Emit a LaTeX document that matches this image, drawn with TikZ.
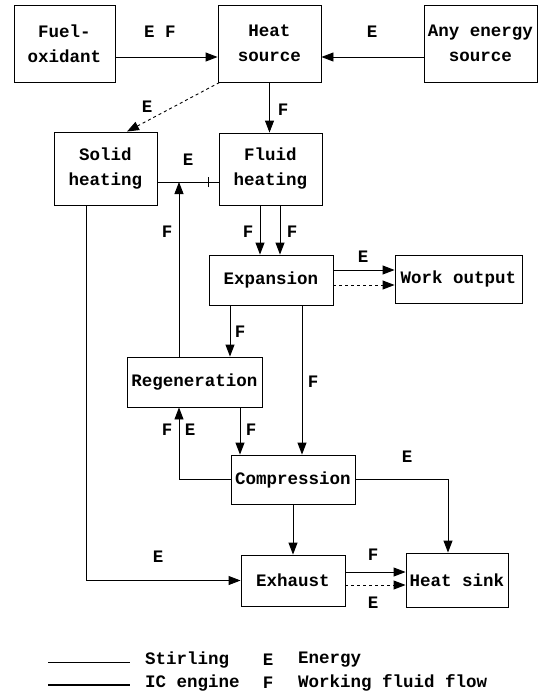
\documentclass[tikz,border=0pt]{standalone}
\usepackage{fontspec}
\setmainfont{Liberation Mono}
\usetikzlibrary{arrows.meta}
\newcommand\dgfont{\fontsize{17.5}{25}\selectfont\bfseries}
\tikzset{
  box/.style={draw, line width=0.9pt, align=center, inner sep=0pt, font=\dgfont},
  conn/.style={draw, line width=0.9pt},
  flow/.style={conn, -{Triangle[length=12pt,width=9pt]}},
  dashflow/.style={flow, dash pattern=on 3pt off 3pt},
  lab/.style={font=\dgfont, inner sep=0pt}
}
\begin{document}
\begin{tikzpicture}[x=1pt,y=-1pt]
\useasboundingbox (0,0) rectangle (542,694);
% boxes
\node[box, minimum width=101pt, minimum height=77pt] (fuel) at (64.5,43.5) {Fuel-\\oxidant};
\node[box, minimum width=103pt, minimum height=77pt] (heat) at (269.5,43.5) {Heat\\source};
\node[box, minimum width=113pt, minimum height=77pt] (any) at (480.5,43.5) {Any energy\\source};
\node[box, minimum width=103pt, minimum height=73pt] (solid) at (105.5,168.5) {Solid\\heating};
\node[box, minimum width=103pt, minimum height=72pt] (fluid) at (270.5,169) {Fluid\\heating};
\node[box, minimum width=124pt, minimum height=50pt] (exp) at (271,280) {Expansion};
\node[box, minimum width=127pt, minimum height=48pt] (work) at (458.5,279) {Work output};
\node[box, minimum width=135pt, minimum height=50pt] (regen) at (194.5,382) {Regeneration};
\node[box, minimum width=124pt, minimum height=49pt] (comp) at (293,479.5) {Compression};
\node[box, minimum width=104pt, minimum height=51pt] (exh) at (293,580.5) {Exhaust};
\node[box, minimum width=102pt, minimum height=54pt] (sink) at (457,580) {Heat sink};
% helper coordinates
\coordinate (yA) at (0,57);
\coordinate (ySF) at (0,182);
\coordinate (jSF) at (179,182);
\coordinate (tick) at (208,182);
\coordinate (yW1) at (0,270);
\coordinate (yW2) at (0,285);
\coordinate (x230) at (230,0);
\coordinate (x240) at (240,0);
\coordinate (x302) at (302,0);
\coordinate (x448) at (448,0);
\coordinate (x86) at (86,0);
\coordinate (yX1) at (0,572);
\coordinate (yX2) at (0,585);
% connectors
\draw[flow] (fuel.east |- yA) -- (heat.west |- yA);
\draw[flow] (any.west |- yA) -- (heat.east |- yA);
\draw[flow] (heat.south) -- (heat.south |- fluid.north);
\draw[dashflow] ([xshift=2pt]heat.south west) -- ([xshift=21.5pt]solid.north);
\draw[conn] (solid.east |- ySF) -- (fluid.west |- ySF);
\draw[conn] ([yshift=-5pt]tick) -- ([yshift=5pt]tick);
\draw[flow] (regen.north -| jSF) -- (jSF);
\draw[flow] ([xshift=-10.5pt]fluid.south) -- ([xshift=-10.5pt]fluid.south |- exp.north);
\draw[flow] ([xshift=9.5pt]fluid.south) -- ([xshift=9.5pt]fluid.south |- exp.north);
\draw[flow] (exp.east |- yW1) -- (work.west |- yW1);
\draw[dashflow] (exp.east |- yW2) -- (work.west |- yW2);
\draw[flow] (exp.south -| x230) -- (regen.north -| x230);
\draw[flow] (exp.south -| x302) -- (comp.north -| x302);
\draw[flow] (regen.south -| x240) -- (comp.north -| x240);
\draw[flow] (comp.west) -| (regen.south -| jSF);
\draw[flow] (comp.east) -| (sink.north -| x448);
\draw[flow] (comp.south) -- (exh.north);
\draw[flow] (solid.south -| x86) |- (exh.west);
\draw[flow] (exh.east |- yX1) -- (sink.west |- yX1);
\draw[dashflow] (exh.east |- yX2) -- (sink.west |- yX2);
% labels
\node[lab] (lEF) at (160,32) {E F};
\node[lab] (lE1) at (372,32) {E};
\node[lab] (lF1) at (283,110) {F};
\node[lab] (lE2) at (147,107) {E};
\node[lab] (lE3) at (188,160) {E};
\node[lab] (lF2) at (167,232) {F};
\node[lab] (lF3) at (248,232) {F};
\node[lab] (lF4) at (292,232) {F};
\node[lab] (lE4) at (363,257) {E};
\node[lab] (lF5) at (240,332) {F};
\node[lab] (lF6) at (313,382) {F};
\node[lab] (lF7) at (167,430) {F};
\node[lab] (lE5) at (190,430) {E};
\node[lab] (lF8) at (251,430) {F};
\node[lab] (lE6) at (407,457) {E};
\node[lab] (lE7) at (158,557) {E};
\node[lab] (lF9) at (373,555) {F};
\node[lab] (lE8) at (373,603) {E};
% legend
\coordinate (lg1a) at (48,662);
\coordinate (lg1b) at (130,662);
\coordinate (lg2a) at (48,685);
\coordinate (lg2b) at (130,685);
\draw[line width=0.8pt] (lg1a) -- (lg1b);
\draw[line width=1.4pt] (lg2a) -- (lg2b);
\node[lab, anchor=west] (stir) at (145,660) {Stirling};
\node[lab, anchor=west] (ic) at (145,683) {IC engine};
\node[lab] (kE) at (268,660) {E};
\node[lab] (kF) at (268,683) {F};
\node[lab, anchor=west] (kEt) at (298,660) {Energy};
\node[lab, anchor=west] (kFt) at (298,683) {Working fluid flow};
\end{tikzpicture}
\end{document}
